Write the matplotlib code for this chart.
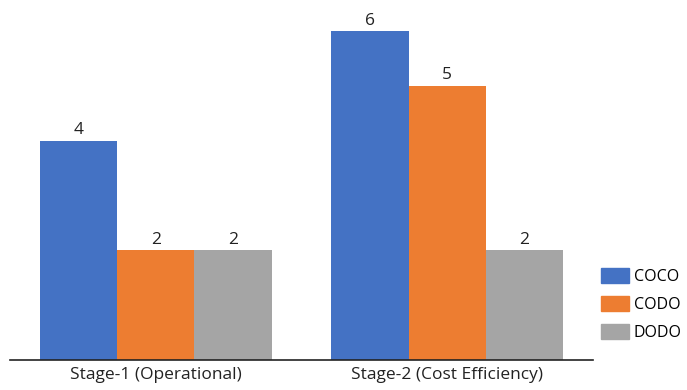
import numpy as np
import matplotlib.pyplot as plt
from matplotlib.patches import Patch

plt.rcParams['font.family'] = ['Open Sans', 'DejaVu Sans']

stages = ['Stage-1 (Operational)', 'Stage-2 (Cost Efficiency)']
series = ['COCO', 'CODO', 'DODO']
coco = [4, 6]
codo = [2, 5]
dodo = [2, 2]
colors = ['#4472C4', '#ED7D31', '#A5A5A5']

fig = plt.figure(figsize=(6.87, 3.9), dpi=100)
ax = fig.add_axes([10 / 687, 30 / 390, 583 / 687, 356 / 390])

x = np.arange(len(stages))
w = 0.265
for i, (vals, c) in enumerate(zip([coco, codo, dodo], colors)):
    bars = ax.bar(x + (i - 1) * w, vals, w, color=c, label=series[i])
    for b, v in zip(bars, vals):
        ax.text(b.get_x() + b.get_width() / 2, v + 0.05, str(v),
                ha='center', va='bottom', fontsize=12.5, color='#222222')

ax.set_xlim(-0.5, 1.5)
ax.set_ylim(0, 6.5)
ax.set_xticks(x)
ax.set_xticklabels(stages, fontsize=12.5, color='#222222')
ax.tick_params(axis='x', length=0, pad=5)
ax.set_yticks([])
for s in ['top', 'right', 'left']:
    ax.spines[s].set_visible(False)
ax.spines['bottom'].set_color('#222222')
ax.spines['bottom'].set_linewidth(1.2)

# legend squares sit in the right margin beside the second group
handles = [Patch(color=c, label=s) for c, s in zip(colors, series)]
fig.legend(handles=handles, loc='upper left', bbox_to_anchor=(601 / 687, (390 - 268) / 390),
           frameon=False, fontsize=11.5, handlelength=1.75, handleheight=1.1,
           handletextpad=0.3, labelspacing=0.68, borderpad=0, borderaxespad=0)

fig.savefig('out.png', dpi=100)
